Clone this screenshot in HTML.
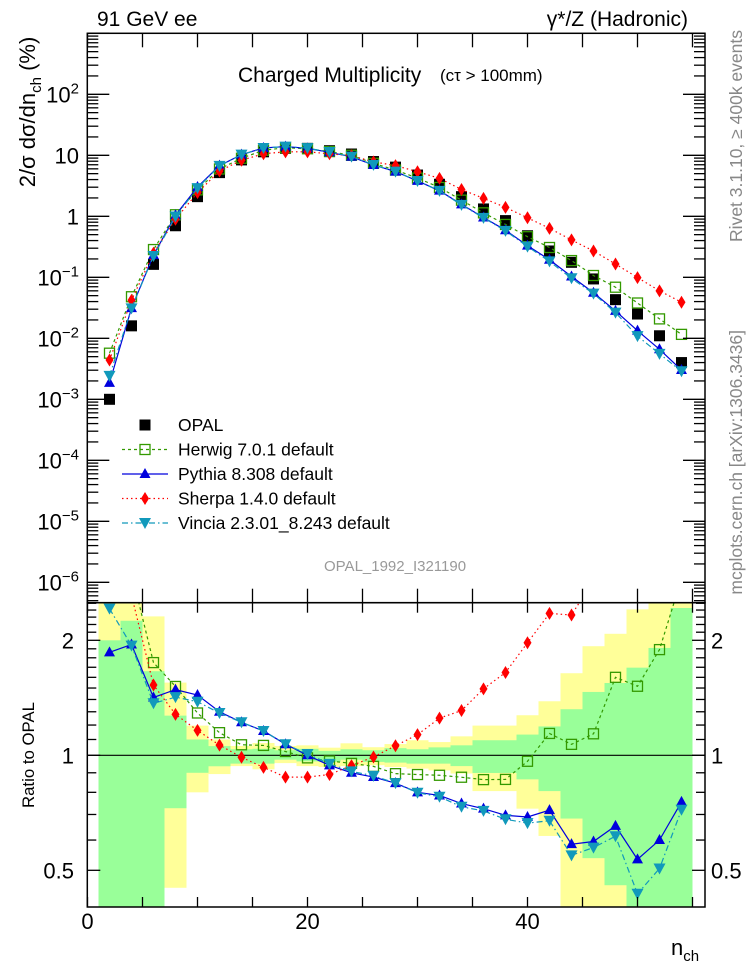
<!DOCTYPE html>
<html><head><meta charset="utf-8">
<style>
html,body{margin:0;padding:0;background:#fff;}
svg{display:block;font-family:"Liberation Sans",sans-serif;}
</style></head>
<body>
<svg id="chart" width="746" height="972" viewBox="0 0 746 972" xmlns="http://www.w3.org/2000/svg">
<defs>
<clipPath id="clipMain"><rect x="87.3" y="33.3" width="617.7" height="569.4"/></clipPath>
<clipPath id="clipRatio"><rect x="87.3" y="602.7" width="617.7" height="304.3"/></clipPath>
</defs>
<g id="bands" clip-path="url(#clipRatio)"></g>
<g id="mainSeries" clip-path="url(#clipMain)"></g>
<g id="ratioSeries" clip-path="url(#clipRatio)"></g>
<g id="axes"></g>
<text x="97" y="26" font-size="21">91 GeV ee</text>
<text x="688" y="26" font-size="21" text-anchor="end">γ*/Z (Hadronic)</text>
<text x="238" y="82" font-size="21">Charged Multiplicity</text>
<text x="440" y="81" font-size="17">(cτ &gt; 100mm)</text>
<text transform="translate(35,112) rotate(-90)" font-size="22" text-anchor="middle">2/σ dσ/dn<tspan font-size="15" dy="6">ch</tspan><tspan dy="-6"> (%)</tspan></text>
<text transform="translate(34,755) rotate(-90)" font-size="16.8" text-anchor="middle">Ratio to OPAL</text>
<text transform="translate(742,30) rotate(-90)" font-size="17.5" fill="#888" text-anchor="end">Rivet 3.1.10, ≥ 400k events</text>
<text transform="translate(742,330) rotate(-90)" font-size="17.5" fill="#888" text-anchor="end">mcplots.cern.ch [arXiv:1306.3436]</text>
<text x="324" y="571" font-size="15" fill="#999">OPAL_1992_I321190</text>
<text x="671" y="955" font-size="22">n<tspan font-size="15" dy="6">ch</tspan></text>
<g id="legend"></g>
</svg>
<script>
const nch = [2,4,6,8,10,12,14,16,18,20,22,24,26,28,30,32,34,36,38,40,42,44,46,48,50,52,54];
const opal = [0.001,0.016,0.163,0.70,2.1,5.2,8.4,11.4,13.0,13.0,11.9,10.5,7.9,6.4,4.75,3.35,2.1,1.32,0.85,0.48,0.27,0.176,0.094,0.043,0.025,0.011,0.004];
const herwig = [0.0057,0.048,0.285,1.06,2.71,5.96,8.95,12.1,13.3,12.8,11.5,10.0,7.39,5.73,4.23,2.97,1.84,1.14,0.735,0.463,0.308,0.188,0.107,0.0688,0.0379,0.0208,0.0116];
const pythia = [0.00186,0.0312,0.231,1.04,3.02,6.76,10.25,13.2,13.9,13.0,11.2,9.45,6.93,5.41,3.80,2.63,1.57,0.957,0.592,0.331,0.194,0.103,0.0559,0.0281,0.01335,0.0066,0.00302];
const sherpa = [0.0044,0.042,0.249,0.896,2.44,5.53,8.30,10.6,11.4,11.4,10.6,9.87,7.82,6.78,5.38,4.19,2.75,1.97,1.40,0.946,0.635,0.41,0.27,0.165,0.099,0.06,0.039];
const vincia = [0.00242,0.031,0.223,0.994,2.90,6.71,10.25,13.2,13.9,13.1,11.3,9.53,6.98,5.41,3.79,2.61,1.54,0.944,0.578,0.319,0.182,0.0963,0.0539,0.0264,0.01085,0.00556,0.00288];
const greenLo = [0.3,0.3,0.3,0.727,0.90,0.936,0.951,0.951,0.974,0.964,0.961,0.974,0.961,0.957,0.951,0.951,0.937,0.899,0.899,0.865,0.806,0.683,0.538,0.457,0.3,0.3,0.3];
const greenHi = [2.0,2.25,1.66,1.27,1.10,1.057,1.037,1.04,1.031,1.04,1.027,1.037,1.031,1.044,1.037,1.049,1.062,1.095,1.095,1.133,1.19,1.32,1.465,1.546,1.696,1.91,2.43];
const yellowLo = [0.3,0.3,0.3,0.45,0.80,0.893,0.937,0.919,0.954,0.937,0.932,0.937,0.942,0.932,0.923,0.913,0.896,0.806,0.806,0.725,0.615,0.3,0.3,0.3,0.3,0.3,0.3];
const yellowHi = [3,3,2.31,1.55,1.196,1.10,1.058,1.077,1.058,1.062,1.047,1.075,1.05,1.07,1.095,1.083,1.121,1.196,1.196,1.273,1.385,1.64,1.93,2.08,2.41,2.6,2.6];
const mainTickExps = [-6,-5,-4,-3,-2,-1,0,1,2];
const xTicks = [0,20,40];
const ratioTicks = [0.5,1,2];

const NS = "http://www.w3.org/2000/svg";
const L = 87.3, R = 705, T = 33.3, MB = 602.7, RB = 907;
function X(v){ return 87.5 + 11 * v; }
function Y(v){ return 216.3 - 61 * Math.log10(v); }
function YR(r){ return 755.3 - 115 * Math.log2(r); }
function mk(tag, attrs, parent){ const e = document.createElementNS(NS, tag); for (const k in attrs) e.setAttribute(k, attrs[k]); parent.appendChild(e); return e; }

const bands = document.getElementById('bands');
nch.forEach((n,i)=>{
  const x0 = X(n-1), x1 = X(n+1);
  const y = mk('rect',{x:x0,y:YR(yellowHi[i]),width:x1-x0,height:YR(yellowLo[i])-YR(yellowHi[i]),fill:'#ffff99'},bands);
  
  
  const g = mk('rect',{x:x0,y:YR(greenHi[i]),width:x1-x0,height:YR(greenLo[i])-YR(greenHi[i]),fill:'#99ff99'},bands);
  
  
});

function marker(parent, type, color, cx, cy){
  let e;
  if (type==='sq') e = mk('rect',{x:cx-5.5,y:cy-5.5,width:11,height:11,fill:'#000'},parent);
  else if (type==='osq') e = mk('rect',{x:cx-5,y:cy-5,width:10,height:10,fill:'none',stroke:color,'stroke-width':1.3},parent);
  else if (type==='up') e = mk('polygon',{points:`${cx},${cy-6} ${cx-5.5},${cy+4} ${cx+5.5},${cy+4}`,fill:color},parent);
  else if (type==='down') e = mk('polygon',{points:`${cx-6},${cy-5} ${cx+6},${cy-5} ${cx},${cy+6}`,fill:color},parent);
  else e = mk('polygon',{points:`${cx},${cy-6.5} ${cx+4},${cy} ${cx},${cy+6.5} ${cx-4},${cy}`,fill:color},parent);
  return e;
}

const series = [
  {name:'herwig', vals:herwig, color:'#339900', dash:'3,3', type:'osq'},
  {name:'pythia', vals:pythia, color:'#0000dd', dash:'', type:'up'},
  {name:'sherpa', vals:sherpa, color:'#ff0000', dash:'1.5,3', type:'dia'},
  {name:'vincia', vals:vincia, color:'#1199bb', dash:'6,3,1.5,3', type:'down'}
];
const mainG = document.getElementById('mainSeries');
const ratioG = document.getElementById('ratioSeries');

opal.forEach((v,i)=>{
  const m = marker(mainG,'sq','#000',X(nch[i]),Y(v));
  
  
});
const one = mk('line',{x1:L,x2:R,y1:YR(1),y2:YR(1),stroke:'#000','stroke-width':1.2},ratioG);



series.forEach(s=>{
  const pm = s.vals.map((v,i)=>`${X(nch[i])},${Y(v)}`).join(' ');
  const pl = mk('polyline',{points:pm,fill:'none',stroke:s.color,'stroke-width':1.2,'stroke-dasharray':s.dash},mainG);
  
  
  const pr = s.vals.map((v,i)=>`${X(nch[i])},${YR(v/opal[i])}`).join(' ');
  const rl = mk('polyline',{points:pr,fill:'none',stroke:s.color,'stroke-width':1.2,'stroke-dasharray':s.dash},ratioG);
  
  
  s.vals.forEach((v,i)=>{
    const m = marker(mainG,s.type,s.color,X(nch[i]),Y(v));
    
    
    const r = marker(ratioG,s.type,s.color,X(nch[i]),YR(v/opal[i]));
    
    
  });
});

const ax = document.getElementById('axes');
function ln(x1,y1,x2,y2){ return mk('line',{x1,y1,x2,y2,stroke:'#000','stroke-width':1.3},ax); }
const f1 = mk('rect',{x:L,y:T,width:R-L,height:MB-T,fill:'none',stroke:'#000','stroke-width':1.5},ax);


const f2 = mk('rect',{x:L,y:MB,width:R-L,height:RB-MB,fill:'none',stroke:'#000','stroke-width':1.5},ax);


for (let v=0; v<=55; v+=5){
  ln(X(v),MB,X(v),MB-14); ln(X(v),T,X(v),T+14);
  ln(X(v),RB,X(v),RB-10); ln(X(v),MB,X(v),MB+10);
}
xTicks.forEach(v=>{
  const t = mk('text',{x:X(v),y:929,'font-size':22,'text-anchor':'middle'},ax);
  t.textContent = v;
  
  
});
for (let e=-7; e<=3; e++){
  for (let k=1;k<10;k++){
    const v = k*Math.pow(10,e);
    const y = Y(v);
    if (y<T || y>MB) continue;
    const len = k===1 ? 22 : 11;
    ln(L,y,L+len,y); ln(R,y,R-len,y);
  }
}
mainTickExps.forEach(e=>{
  const t = mk('text',{x:79,y:Y(Math.pow(10,e))+8,'font-size':22,'text-anchor':'end'},ax);
  if (e===0) t.textContent='1';
  else if (e===1) t.textContent='10';
  else { t.textContent='10'; const s = mk('tspan',{dy:-9,'font-size':15},t); s.textContent = (e<0?'\u2212':'')+Math.abs(e); }
  
  
});
[0.4,0.5,0.6,0.7,0.8,0.9,1,1.1,1.2,1.3,1.4,1.5,1.6,1.7,1.8,1.9,2,2.1,2.2,2.3,2.4,2.5].forEach(r=>{
  const y = YR(r); if (y<MB||y>RB) return;
  const len = (r===0.5||r===1||r===2)?13:9;
  ln(L,y,L+len,y); ln(R,y,R-len,y);
});
ratioTicks.forEach(r=>{
  const t = mk('text',{x:74,y:YR(r)+8,'font-size':22,'text-anchor':'end'},ax);
  t.textContent = r;
  
  
  const t2 = mk('text',{x:711,y:YR(r)+8,'font-size':22},ax);
  t2.textContent = r;
  
  
});

const lg = document.getElementById('legend');
const leg = [
  {label:'OPAL', type:'sq', color:'#000', dash:null},
  {label:'Herwig 7.0.1 default', type:'osq', color:'#339900', dash:'3,3'},
  {label:'Pythia 8.308 default', type:'up', color:'#0000dd', dash:''},
  {label:'Sherpa 1.4.0 default', type:'dia', color:'#ff0000', dash:'1.5,3'},
  {label:'Vincia 2.3.01_8.243 default', type:'down', color:'#1199bb', dash:'6,3,1.5,3'}
];
leg.forEach((e,i)=>{
  const y = 425 + i*24.5;
  const g = mk('g',{},lg);
  
  
  if (e.dash!==null) mk('line',{x1:122,x2:168,y1:y,y2:y,stroke:e.color,'stroke-width':1.2,'stroke-dasharray':e.dash},g);
  marker(g,e.type,e.color,145,y);
  const t = mk('text',{x:178,y:y+6,'font-size':17.5},g);
  t.textContent = e.label;
});
</script>
</body></html>
